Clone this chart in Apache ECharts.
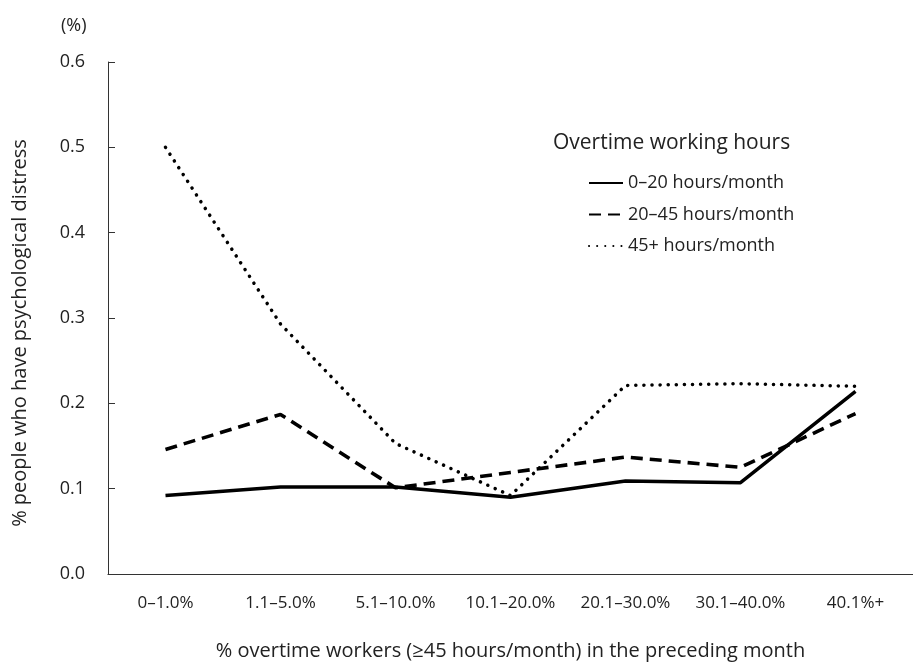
<!DOCTYPE html>
<html>
<head>
<meta charset="utf-8">
<script src="https://cdn.jsdelivr.net/npm/echarts@6/dist/echarts.min.js"></script>
<style>html,body{margin:0;padding:0;background:#fff;}#c{width:913px;height:664px;}</style>
</head>
<body>
<div id="c"></div>
<script>
var categories = ['0\u20131.0%', '1.1\u20135.0%', '5.1\u201310.0%', '10.1\u201320.0%', '20.1\u201330.0%', '30.1\u201340.0%', '40.1%+'];
var seriesNames = ['0\u201320 hours/month', '20\u201345 hours/month', '45+ hours/month'];
var low = [0.092, 0.102, 0.102, 0.090, 0.109, 0.107, 0.214];
var mid = [0.146, 0.187, 0.101, 0.119, 0.137, 0.125, 0.188];
var high = [0.500, 0.293, 0.153, 0.092, 0.221, 0.223, 0.220];

var font = '"Open Sans", "Noto Sans", sans-serif';
var chart = echarts.init(document.getElementById('c'), null, {renderer: 'canvas'});
chart.setOption({
  animation: false,
  backgroundColor: '#fff',
  textStyle: {fontFamily: font, color: '#222'},
  title: [
    {text: '(%)', left: 56, top: 12, textStyle: {fontFamily: font, fontSize: 18, fontWeight: 'normal', color: '#222'}},
    {text: 'Overtime working hours', left: 548, top: 128, textStyle: {fontFamily: font, fontSize: 21, fontWeight: 'normal', color: '#222'}}
  ],
  legend: {
    orient: 'vertical',
    left: 583,
    top: 166,
    itemWidth: 34,
    itemHeight: 12,
    itemGap: 7.5,
    itemStyle: {opacity: 0},
    textStyle: {fontFamily: font, fontSize: 18, color: '#222', lineHeight: 24},
    data: seriesNames
  },
  grid: {left: 108, right: 0, top: 62, bottom: 90, containLabel: false, outerBoundsMode: 'none'},
  xAxis: {
    type: 'category',
    data: categories,
    boundaryGap: true,
    axisLine: {lineStyle: {color: '#333', width: 1.2}},
    axisTick: {inside: true, length: 7, interval: 0, lineStyle: {color: '#333'}},
    axisLabel: {fontFamily: font, fontSize: 17, color: '#222', margin: 21, interval: 0},
    name: '% overtime workers (\u226545 hours/month) in the preceding month',
    nameLocation: 'middle',
    nameGap: 67,
    nameTextStyle: {fontFamily: font, fontSize: 20, color: '#222'}
  },
  yAxis: {
    type: 'value',
    min: 0,
    max: 0.6,
    interval: 0.1,
    axisLine: {show: true, lineStyle: {color: '#333', width: 1}},
    axisTick: {show: true, inside: true, length: 7, lineStyle: {color: '#333'}},
    splitLine: {show: false},
    axisLabel: {fontFamily: font, fontSize: 18, color: '#222', margin: 23, formatter: function (v) { return v.toFixed(1); }},
    name: '% people who have psychological distress',
    nameLocation: 'middle',
    nameGap: 78,
    nameTextStyle: {fontFamily: font, fontSize: 20, color: '#222', padding: [0, 30, 0, 0]}
  },
  series: [
    {name: seriesNames[0], type: 'line', data: low, symbol: 'none', lineStyle: {color: '#000', width: 3.5, type: 'solid'}, itemStyle: {color: '#000'}},
    {name: seriesNames[1], type: 'line', data: mid, symbol: 'none', lineStyle: {color: '#000', width: 3.6, type: [12, 7]}, itemStyle: {color: '#000'}},
    {name: seriesNames[2], type: 'line', data: high, symbol: 'none', lineStyle: {color: '#000', width: 3.5, type: [0.1, 8], cap: 'round'}, itemStyle: {color: '#000'}}
  ]
});
</script>
</body>
</html>
